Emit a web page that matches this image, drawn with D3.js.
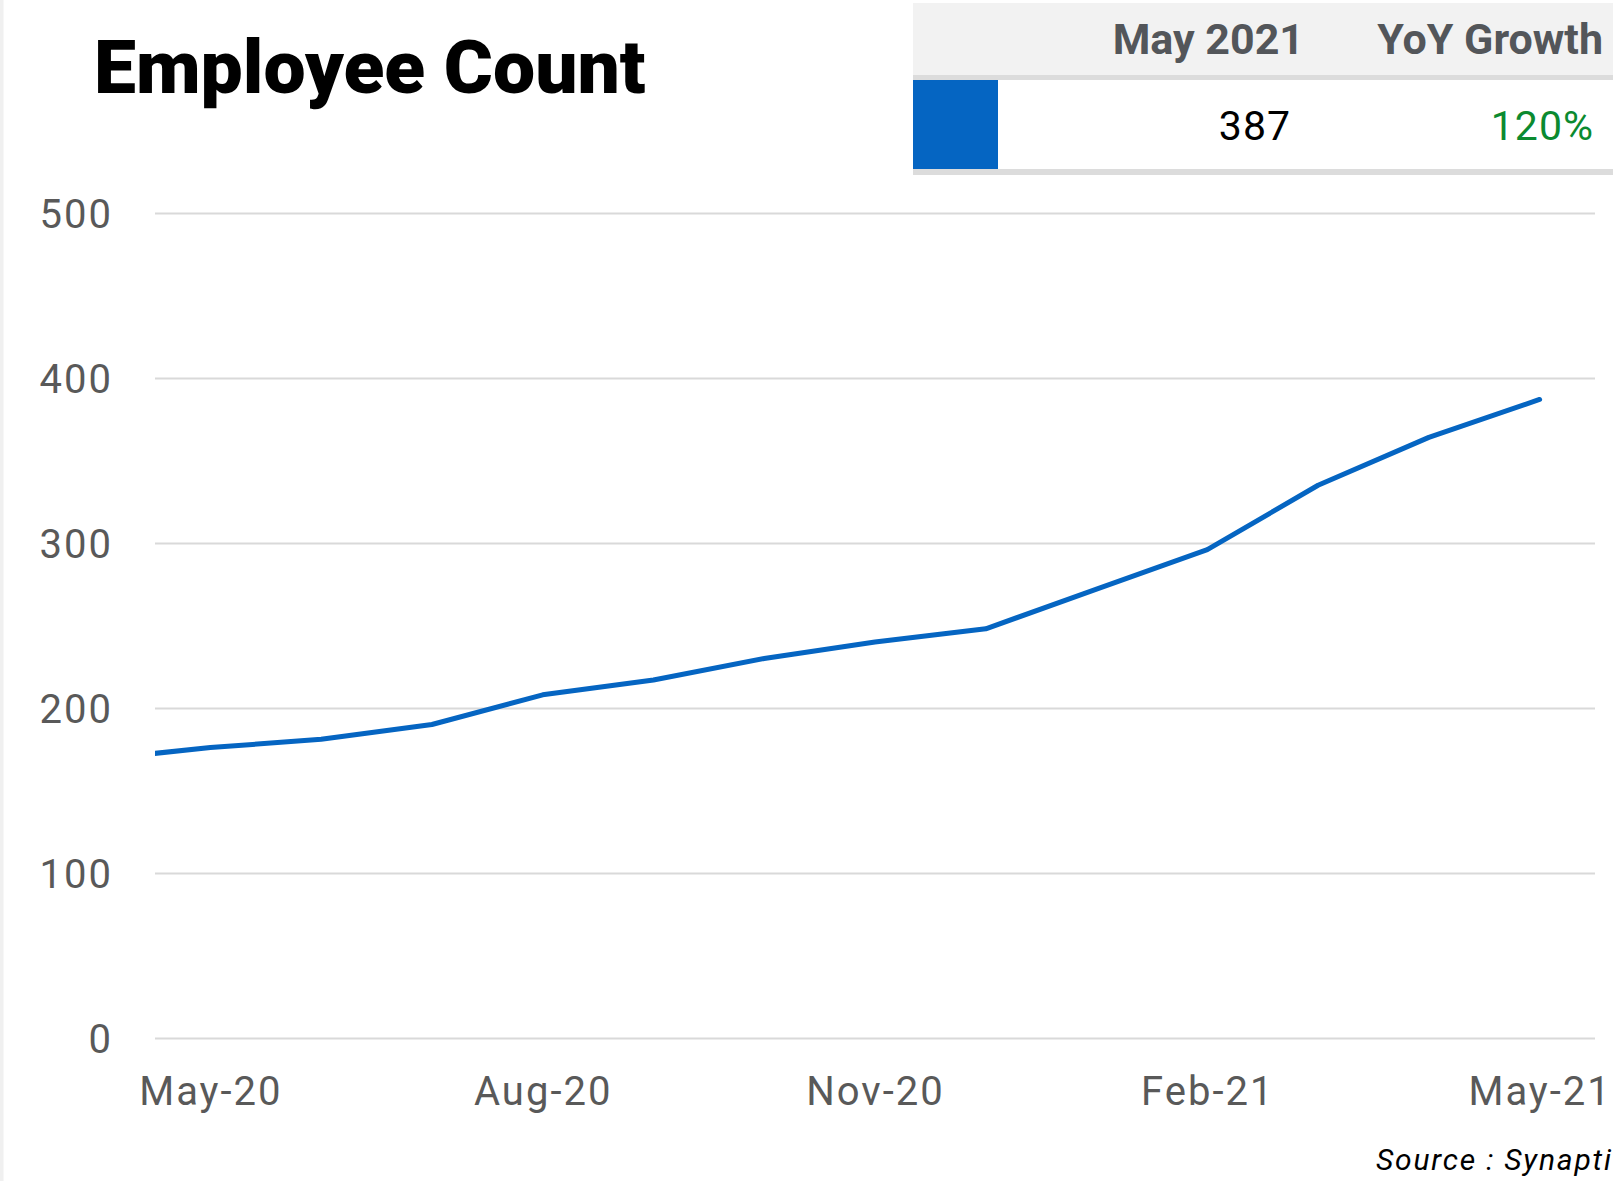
<!DOCTYPE html>
<html>
<head>
<meta charset="utf-8">
<script src="https://cdn.jsdelivr.net/npm/d3@7"></script>
<style>
  body { margin: 0; background: #fff; overflow: hidden; }
</style>
</head>
<body>
<div id="chart"></div>
<script>
// monthly headcount, Apr-20 sits just off the left edge of the plot
const months = ["Apr-20", "May-20", "Jun-20", "Jul-20", "Aug-20", "Sep-20", "Oct-20",
                "Nov-20", "Dec-20", "Jan-21", "Feb-21", "Mar-21", "Apr-21", "May-21"];
const employees = [169, 176, 181, 190, 208, 217, 230, 240, 248, 272, 296, 335, 364, 387];
const xTickMonths = ["May-20", "Aug-20", "Nov-20", "Feb-21", "May-21"];
const yTicks = [0, 100, 200, 300, 400, 500];

// summary table
const tableHeaders = ["May 2021", "YoY Growth"];
const tableValues = ["387", "120%"];

const W = 1613, H = 1181;
const plotLeft = 155, plotRight = 1595, plotTop = 213, plotBottom = 1038;
const blue = "#0565c2";
const labelFont = "Roboto, 'Open Sans', sans-serif";

const svg = d3.select("#chart")
	.append("svg")
		.attr("width", W)
		.attr("height", H)
		.attr("viewBox", [0, 0, W, H]);

// light strip down the left side
svg.append("rect")
	.attr("x", 0).attr("y", 0)
	.attr("width", 3.5).attr("height", H)
	.attr("fill", "#f0f0f0");

const x = d3.scaleLinear()
	.domain([0.5, months.length - 0.5])
	.range([plotLeft, plotRight]);

const y = d3.scaleLinear()
	.domain([0, 500])
	.range([plotBottom, plotTop]);

// y axis doubles as gridlines
const yAxis = svg.append("g")
	.attr("transform", `translate(${plotLeft},0)`)
	.call(d3.axisLeft(y)
		.tickValues(yTicks)
		.tickSize(-(plotRight - plotLeft))
		.tickPadding(42));
yAxis.select(".domain").remove();
yAxis.selectAll(".tick line")
	.attr("stroke", "#d9d9d9")
	.attr("stroke-width", 2);
yAxis.selectAll(".tick text")
	.attr("dy", "0.355em")
	.style("font-family", labelFont)
	.style("font-size", "40px")
	.style("letter-spacing", "2px")
	.attr("fill", "#595959");

// x axis, only every third month labelled
const xAxis = svg.append("g")
	.attr("transform", `translate(0,${plotBottom})`)
	.call(d3.axisBottom(x)
		.tickValues(xTickMonths.map(m => months.indexOf(m)))
		.tickFormat(i => months[i])
		.tickSize(0)
		.tickPadding(39));
xAxis.select(".domain").remove();
xAxis.selectAll(".tick text")
	.style("font-family", labelFont)
	.style("font-size", "40px")
	.style("letter-spacing", "2px")
	.attr("fill", "#595959");

// clip the line to the plot area
svg.append("clipPath")
	.attr("id", "plot-clip")
	.append("rect")
		.attr("x", plotLeft).attr("y", 0)
		.attr("width", plotRight - plotLeft).attr("height", H);

const line = d3.line()
	.x((d, i) => x(i))
	.y(d => y(d));

svg.append("path")
	.datum(employees)
	.attr("clip-path", "url(#plot-clip)")
	.attr("d", line)
	.attr("fill", "none")
	.attr("stroke", blue)
	.attr("stroke-width", 5)
	.attr("stroke-linecap", "round")
	.attr("stroke-linejoin", "round");

// title
svg.append("text")
	.attr("x", 94)
	.attr("y", 93)
	.style("font-family", "Roboto, sans-serif")
	.style("font-weight", 900)
	.style("font-size", "75px")
	.attr("fill", "#000")
	.text("Employee Count");

// summary table in the top right corner
const tbl = svg.append("g");
tbl.append("rect")
	.attr("x", 913).attr("y", 3)
	.attr("width", W - 913).attr("height", 73)
	.attr("fill", "#f2f2f2");
tbl.append("rect")
	.attr("x", 913).attr("y", 75)
	.attr("width", W - 913).attr("height", 5)
	.attr("fill", "#dcdcdc");
tbl.append("rect")
	.attr("x", 913).attr("y", 80)
	.attr("width", 85).attr("height", 89)
	.attr("fill", blue);
tbl.append("rect")
	.attr("x", 913).attr("y", 169)
	.attr("width", W - 913).attr("height", 6)
	.attr("fill", "#dcdcdc");

const headerRight = [1304, 1603];
tbl.selectAll(".hdr")
	.data(tableHeaders)
	.join("text")
	.attr("class", "hdr")
	.attr("x", (d, i) => headerRight[i])
	.attr("y", 54)
	.attr("text-anchor", "end")
	.style("font-family", "Roboto, sans-serif")
	.style("font-weight", 700)
	.style("font-size", "43px")
	.attr("fill", "#53565a")
	.text(d => d);

const valueRight = [1291, 1594];
const valueColor = ["#000", "#0b8a30"];
tbl.selectAll(".val")
	.data(tableValues)
	.join("text")
	.attr("class", "val")
	.attr("x", (d, i) => valueRight[i])
	.attr("y", 140)
	.attr("text-anchor", "end")
	.style("font-family", labelFont)
	.style("font-size", "41px")
	.style("letter-spacing", "1px")
	.attr("fill", (d, i) => valueColor[i])
	.text(d => d);

// source note, runs off the right edge like the original
svg.append("text")
	.attr("x", 1376)
	.attr("y", 1170)
	.style("font-family", "Roboto, sans-serif")
	.style("font-style", "italic")
	.style("font-size", "30px")
	.style("letter-spacing", "1.8px")
	.attr("fill", "#000")
	.text("Source : Synaptic");
</script>
</body>
</html>
